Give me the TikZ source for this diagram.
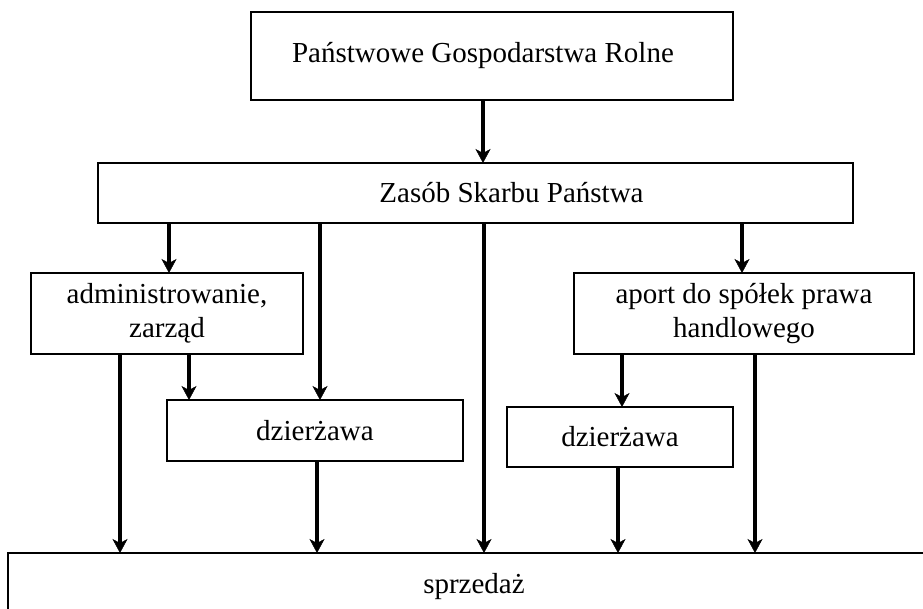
\documentclass[tikz,border=0pt]{standalone}
\usepackage{fontspec}
\setmainfont{Liberation Serif}
\usetikzlibrary{arrows.meta}
\begin{document}
\begin{tikzpicture}[x=1pt,y=-1pt,
  box/.style={draw,line width=1.6pt,rectangle,inner sep=0pt,outer sep=0pt,
    align=center,font=\fontsize{29}{34}\selectfont},
  arr/.style={line width=4.6pt,
    -{Stealth[length=14pt,width=15pt,inset=4pt,line width=0.4pt]}}]
\useasboundingbox (0,0) rectangle (923,608);

% boxes
\node[box,minimum width=482pt,minimum height=88pt] (pgr) at (492,56)
  {Państwowe Gospodarstwa Rolne\hspace*{18pt}};
\node[box,minimum width=755pt,minimum height=60pt] (zasob) at (475.5,193)
  {\hspace*{72pt}Zasób Skarbu Państwa};
\node[box,minimum width=272pt,minimum height=81pt] (admin) at (167,313.5)
  {administrowanie,\\zarząd};
\node[box,minimum width=296pt,minimum height=61pt] (dz1) at (315,430.5)
  {dzierżawa};
\node[box,minimum width=340pt,minimum height=81pt] (aport) at (744,313.5)
  {aport do spółek prawa\\handlowego};
\node[box,minimum width=226pt,minimum height=60pt] (dz2) at (620,437)
  {dzierżawa};
\node[box,minimum width=932pt,minimum height=68pt] (sprzedaz) at (474,587)
  {sprzedaż};

% connectors
\draw[arr] (pgr.south -| 483,0) -- (zasob.north -| 483,0);
\draw[arr] (zasob.south -| 169,0) -- (admin.north -| 169,0);
\draw[arr] (zasob.south -| 320,0) -- (dz1.north -| 320,0);
\draw[arr] (zasob.south -| 484,0) -- (sprzedaz.north -| 484,0);
\draw[arr] (zasob.south -| 742,0) -- (aport.north -| 742,0);
\draw[arr] (admin.south -| 120,0) -- (sprzedaz.north -| 120,0);
\draw[arr] (admin.south -| 189,0) -- (dz1.north -| 189,0);
\draw[arr] (dz1.south -| 317,0) -- (sprzedaz.north -| 317,0);
\draw[arr] (aport.south -| 622,0) -- (dz2.north -| 622,0);
\draw[arr] (aport.south -| 755,0) -- (sprzedaz.north -| 755,0);
\draw[arr] (dz2.south -| 618,0) -- (sprzedaz.north -| 618,0);
\end{tikzpicture}
\end{document}
